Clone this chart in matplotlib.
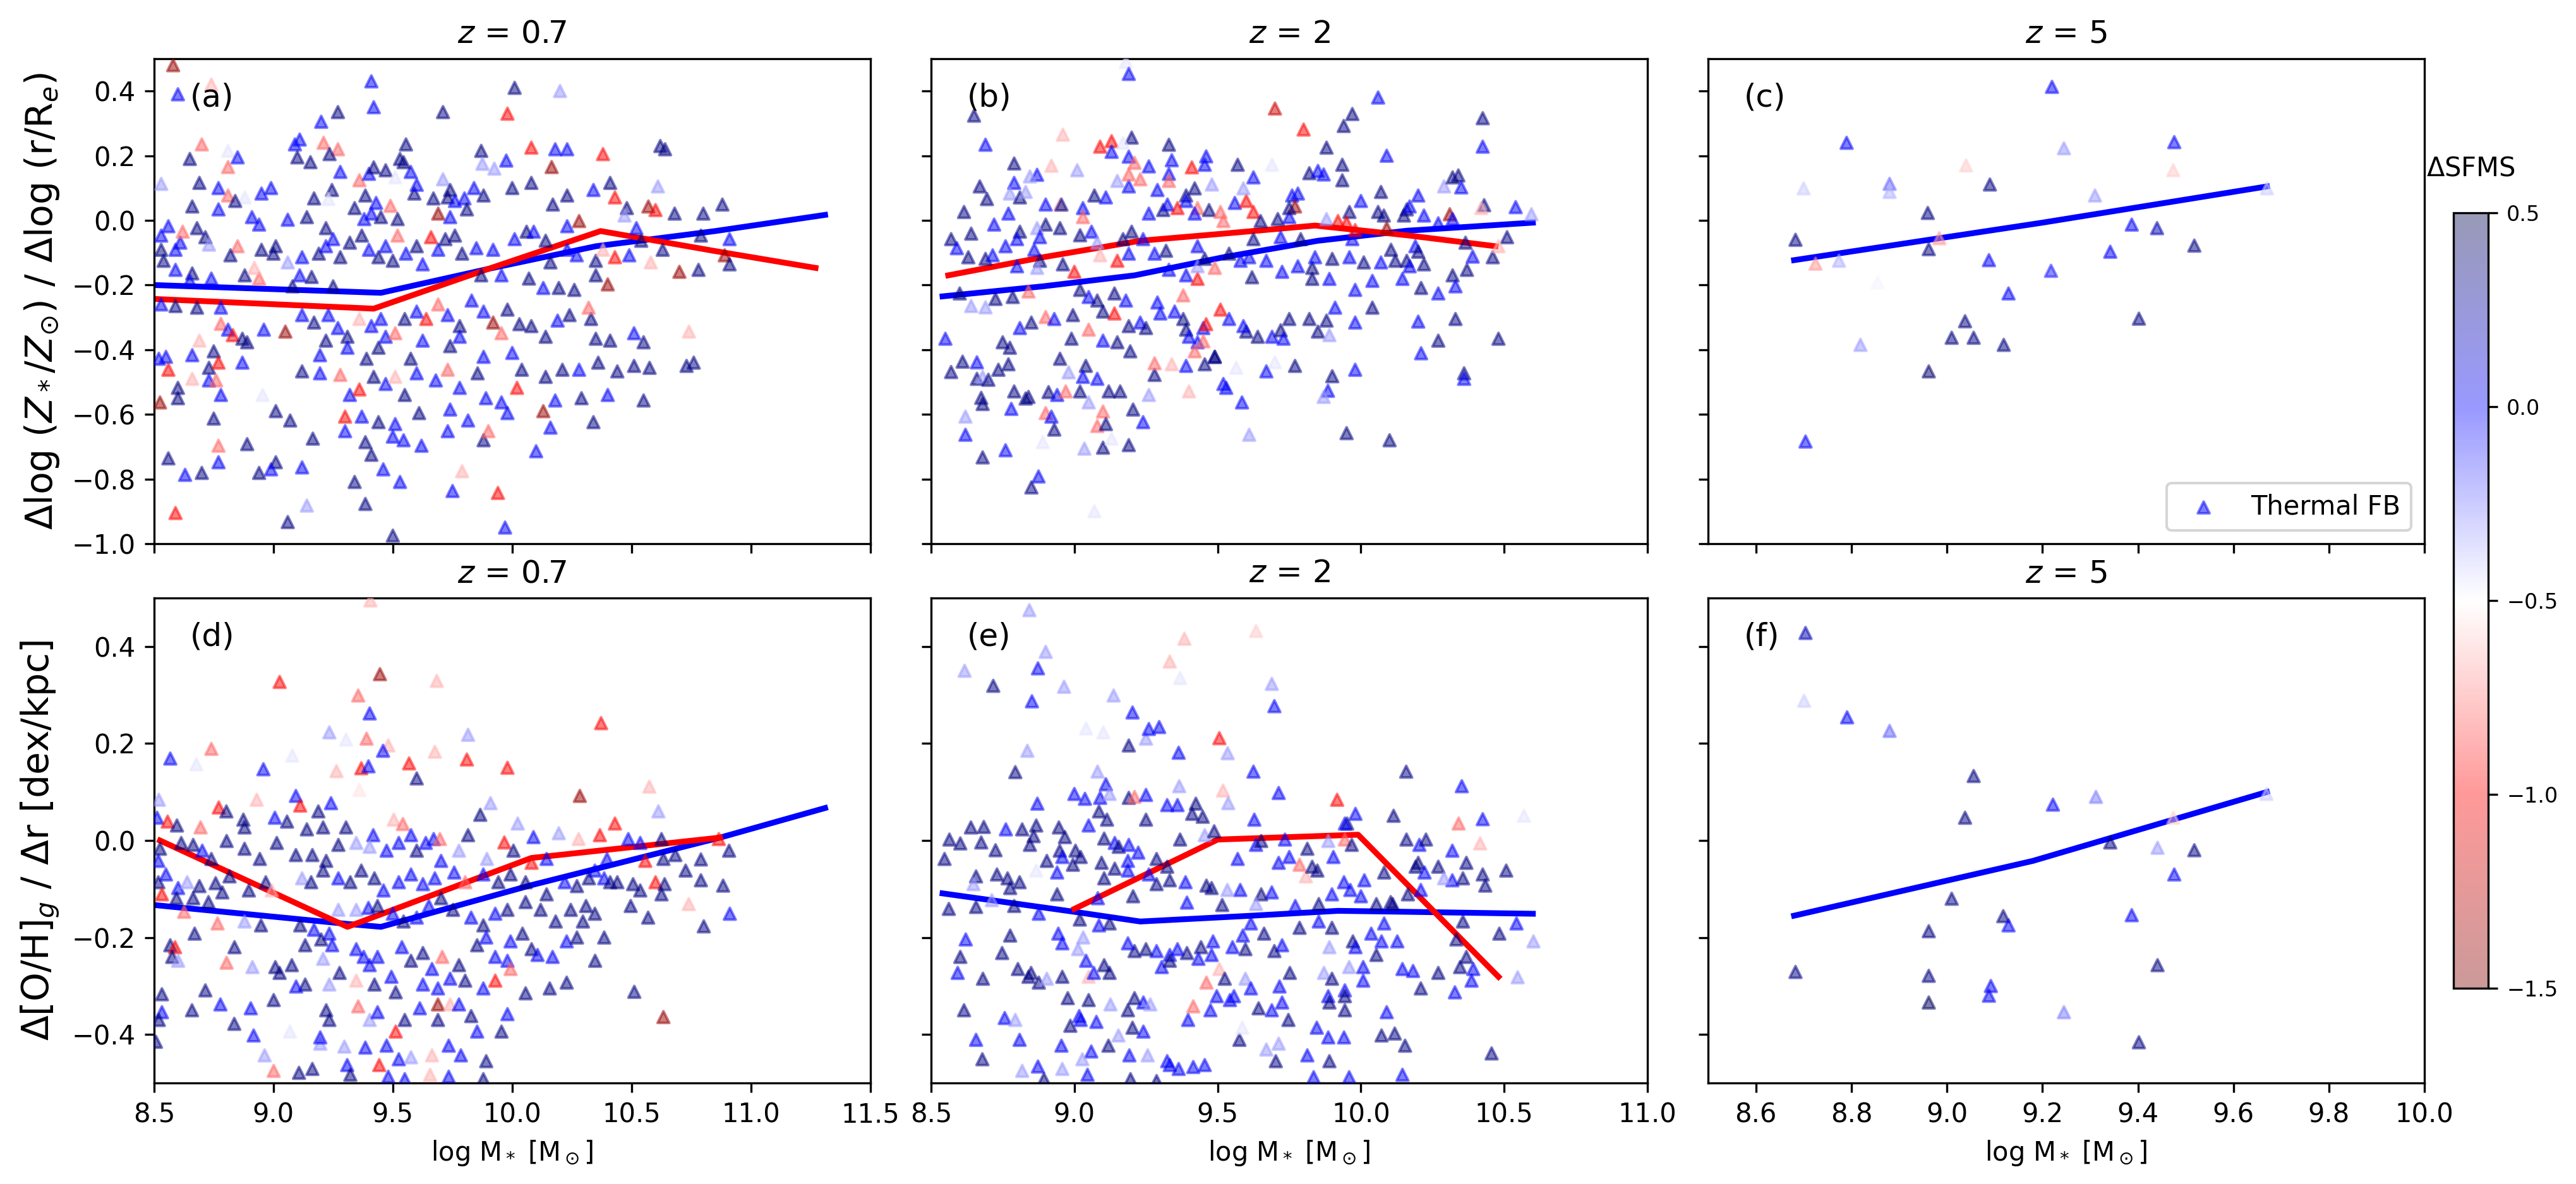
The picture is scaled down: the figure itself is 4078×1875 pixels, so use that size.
import numpy as np
import matplotlib
matplotlib.use("Agg")
import matplotlib.pyplot as plt
from matplotlib import cm, colors

# ---- data: rows of [log M*, gradient, delta SFMS] ----
pts_a = [
    [8.58, 0.48, -1.4], [8.60, 0.39, 0.0], [9.41, 0.43, 0.0], [9.42, 0.35, 0.0], [9.27, 0.335, 0.35],
    [9.20, 0.305, 0.0], [10.01, 0.41, 0.35], [10.20, 0.40, -0.3], [9.71, 0.335, 0.35], [9.98, 0.33, -1.0],
    [8.74, 0.42, -0.65], [8.70, 0.235, -0.8], [8.65, 0.19, 0.35], [8.81, 0.165, -0.8], [8.81, 0.215, -0.45],
    [8.85, 0.195, 0.0], [9.09, 0.235, 0.0], [9.11, 0.25, 0.0], [9.21, 0.24, -0.8], [9.27, 0.22, -0.8],
    [9.10, 0.195, 0.35], [9.155, 0.18, 0.35], [9.235, 0.205, 0.35], [9.53, 0.19, 0.35], [9.555, 0.235, 0.35],
    [10.08, 0.225, -1.0], [10.18, 0.22, 0.0], [10.23, 0.22, 0.0], [10.38, 0.205, -1.0], [10.62, 0.23, 0.35],
    [10.64, 0.22, 0.35], [9.87, 0.215, 0.35], [9.975, 0.185, 0.0], [10.165, 0.165, -1.4], [9.875, 0.175, -0.3],
    [9.925, 0.16, -0.3], [9.575, 0.15, 0.0], [9.545, 0.18, 0.35],
    [8.53, 0.113, -0.3], [8.69, 0.116, 0.35], [8.77, 0.10, 0.0], [8.81, 0.077, -0.8], [8.88, 0.071, -0.45],
    [8.84, 0.06, 0.35], [8.66, 0.043, 0.35], [8.77, 0.034, 0.0], [8.95, 0.083, 0.0], [8.99, 0.10, 0.0],
    [8.91, 0.01, 0.0], [8.94, -0.013, 0.0], [9.06, 0.002, 0.0], [9.14, 0.01, 0.35], [9.17, 0.068, 0.35],
    [9.245, 0.094, 0.35], [9.23, 0.066, -0.45], [9.28, 0.15, 0.0], [9.36, 0.124, -0.8], [9.40, 0.144, 0.0],
    [9.42, 0.164, 0.35], [9.47, 0.155, 0.35], [9.51, 0.133, -0.45], [9.385, 0.077, 0.35], [9.43, 0.054, 0.0],
    [9.49, 0.045, -0.8], [9.34, 0.038, 0.35], [9.38, 0.004, 0.0], [9.41, 0.021, 0.0], [9.45, 0.01, 0.35],
    [9.52, 0.004, 0.35], [9.59, 0.083, 0.35], [9.60, 0.11, 0.0], [9.67, 0.068, 0.35], [9.71, 0.127, -0.3],
    [9.74, 0.094, 0.35], [9.73, 0.071, 0.35], [9.76, 0.06, 0.0], [9.80, 0.068, 0.0], [9.81, 0.034, 0.35],
    [9.69, 0.021, -1.4], [9.74, 0.01, 0.0], [9.84, 0.10, 0.0], [9.88, 0.077, 0.35], [10.0, 0.10, 0.35],
    [10.08, 0.116, 0.35], [10.17, 0.049, 0.35], [10.23, 0.077, 0.35], [10.34, 0.094, 0.0], [10.41, 0.116, 0.35],
    [10.43, 0.071, -1.0], [10.61, 0.105, -0.3], [10.48, 0.038, 0.35], [10.57, 0.043, -1.4], [10.60, 0.032, -1.0],
    [10.68, 0.021, 0.35], [10.80, 0.021, 0.35], [10.88, 0.049, 0.35], [10.47, 0.015, -0.3], [10.28, -0.002, -1.4],
    [10.23, -0.018, 0.0],
    [8.53, -0.047, 0.0], [8.56, -0.018, 0.0], [8.53, -0.091, 0.35], [8.54, -0.125, 0.35], [8.59, -0.091, 0.0],
    [8.61, -0.069, 0.0], [8.62, -0.035, -0.8], [8.68, -0.024, 0.35], [8.715, -0.052, 0.35], [8.73, -0.075, -0.3],
    [8.85, -0.08, -0.8], [8.82, -0.108, 0.35], [8.59, -0.153, 0.0], [8.66, -0.164, 0.35], [8.65, -0.187, 0.0],
    [8.74, -0.18, 0.0], [8.88, -0.17, 0.35], [8.94, -0.18, -0.8], [8.92, -0.147, -0.65], [8.95, -0.091, 0.35],
    [9.01, -0.08, 0.35], [9.0, -0.103, 0.35], [9.06, -0.13, -0.3], [9.12, -0.114, 0.0], [9.19, -0.103, 0.35],
    [9.22, -0.08, 0.0], [9.22, -0.024, 0.35], [9.25, -0.058, 0.0], [9.28, -0.114, 0.35], [9.32, -0.069, 0.35],
    [9.11, -0.17, 0.0], [9.16, -0.175, 0.35], [9.25, -0.204, 0.35], [9.08, -0.204, 0.35], [9.37, -0.047, 0.35],
    [9.40, -0.091, 0.0], [9.44, -0.114, 0.35], [9.47, -0.08, 0.0], [9.50, -0.125, 0.35], [9.52, -0.047, -0.8],
    [9.555, -0.103, 0.0], [9.60, -0.08, 0.35], [9.625, -0.136, 0.0], [9.66, -0.052, -1.0], [9.69, -0.091, 0.0],
    [9.72, -0.058, 0.35], [9.76, -0.047, 0.35], [9.79, -0.103, 0.35], [9.85, -0.086, 0.0], [9.87, -0.17, 0.35],
    [9.92, -0.091, 0.0], [9.955, -0.17, 0.0], [10.01, -0.058, 0.0], [10.06, -0.035, 0.35], [10.09, -0.035, 0.0],
    [10.14, -0.063, 0.35], [10.16, -0.13, 0.35], [10.23, -0.091, 0.0], [10.27, -0.108, 0.0], [10.35, -0.125, 0.35],
    [10.38, -0.091, -0.65], [10.43, -0.114, -1.0], [10.49, -0.108, 0.0], [10.52, -0.024, 0.0], [10.54, -0.063, 0.35],
    [10.58, -0.13, -0.65], [10.63, -0.091, 0.35], [10.79, -0.047, 0.35], [10.91, -0.058, 0.0], [10.89, -0.108, -1.4],
    [10.91, -0.136, 0.35], [10.78, -0.153, 0.35], [10.70, -0.159, -1.4], [10.40, -0.198, -1.4], [10.35, -0.17, 0.35],
    [10.13, -0.209, 0.0], [10.195, -0.209, 0.35], [10.26, -0.215, 0.35], [10.07, -0.18, 0.35],
    [8.53, -0.26, 0.0], [8.59, -0.265, 0.35], [8.68, -0.27, 0.35], [8.78, -0.27, 0.0], [8.78, -0.32, -0.8],
    [8.81, -0.338, 0.0], [8.83, -0.355, -1.0], [8.87, -0.366, 0.35], [8.89, -0.377, 0.35], [8.96, -0.338, 0.0],
    [9.05, -0.344, -1.4], [9.12, -0.293, 0.0], [9.17, -0.316, 0.35], [9.23, -0.293, 0.0], [9.27, -0.333, 0.0],
    [9.31, -0.36, 0.35], [9.36, -0.305, -0.65], [9.41, -0.327, 0.0], [9.45, -0.305, 0.0], [9.47, -0.36, 0.0],
    [9.51, -0.349, -0.8], [9.44, -0.394, 0.35], [9.55, -0.305, 0.35], [9.60, -0.282, 0.0], [9.64, -0.305, -1.0],
    [9.69, -0.26, -0.8], [9.73, -0.293, 0.0], [9.78, -0.327, 0.35], [9.83, -0.248, 0.0], [9.88, -0.282, 0.0],
    [9.92, -0.316, -1.4], [9.955, -0.349, -0.8], [10.03, -0.321, 0.35], [10.08, -0.327, 0.35], [10.14, -0.36, 0.35],
    [10.19, -0.31, 0.0], [10.24, -0.293, 0.35], [10.33, -0.305, 0.35], [10.35, -0.366, 0.35], [10.41, -0.372, 0.35],
    [10.51, -0.349, 0.0], [10.55, -0.377, 0.35], [10.74, -0.344, -0.65], [10.32, -0.27, -0.8], [9.98, -0.276, 0.35],
    [9.78, -0.36, 0.0], [9.625, -0.372, 0.0], [9.74, -0.389, 0.35], [9.31, -0.394, 0.0], [9.22, -0.372, 0.35],
    [9.195, -0.417, 0.0], [9.39, -0.428, 0.35], [9.575, -0.428, 0.35], [9.88, -0.422, 0.0], [10.0, -0.41, 0.0],
    [8.69, -0.372, -0.65], [8.75, -0.405, 0.35], [8.66, -0.417, 0.0], [8.52, -0.428, 0.0], [8.55, -0.422, 0.0],
    [8.56, -0.462, -1.0], [8.73, -0.456, 0.35], [8.77, -0.44, -1.0], [8.87, -0.44, 0.0], [8.60, -0.518, 0.35],
    [8.66, -0.49, -0.65], [8.73, -0.495, 0.0], [8.76, -0.495, -0.8], [8.78, -0.54, 0.0], [8.60, -0.55, 0.35],
    [8.525, -0.563, -1.4], [8.955, -0.54, -0.45], [9.12, -0.467, 0.35], [9.195, -0.473, 0.0], [9.28, -0.478, -0.8],
    [9.32, -0.54, 0.0], [9.36, -0.523, -1.0], [9.42, -0.484, 0.35], [9.47, -0.506, 0.0], [9.51, -0.484, -0.65],
    [9.55, -0.54, 0.35], [9.60, -0.473, 0.0], [9.68, -0.495, 0.0], [9.73, -0.462, -0.8], [9.78, -0.518, 0.0],
    [9.855, -0.473, 0.35], [9.89, -0.55, 0.0], [9.955, -0.563, 0.0], [10.02, -0.518, -1.0], [10.04, -0.462, 0.35],
    [10.14, -0.484, 0.35], [10.21, -0.462, 0.35], [10.28, -0.462, 0.0], [10.36, -0.44, 0.35], [10.44, -0.467, 0.35],
    [10.51, -0.45, 0.35], [10.575, -0.456, 0.35], [10.73, -0.45, 0.35], [10.76, -0.44, 0.35], [10.40, -0.54, 0.0],
    [10.29, -0.55, 0.35], [10.18, -0.557, 0.0], [10.55, -0.557, 0.35], [9.74, -0.585, 0.0], [9.61, -0.596, 0.35],
    [9.37, -0.607, 0.0], [9.30, -0.607, -1.0], [9.44, -0.624, 0.35], [9.51, -0.63, 0.0], [9.01, -0.59, 0.35],
    [9.07, -0.619, 0.35], [8.75, -0.613, 0.35], [9.815, -0.619, 0.0], [10.13, -0.59, -1.4], [10.16, -0.641, 0.0],
    [10.34, -0.624, 0.35], [9.98, -0.596, 0.0],
    [9.30, -0.652, 0.0], [9.50, -0.669, 0.0], [9.545, -0.68, 0.0], [9.88, -0.68, 0.35], [9.90, -0.652, -0.8],
    [9.73, -0.652, 0.0], [9.165, -0.675, 0.35], [9.385, -0.686, 0.35], [9.41, -0.725, 0.35], [9.62, -0.697, 0.0],
    [8.89, -0.692, 0.35], [8.77, -0.697, -0.8], [8.56, -0.736, 0.35], [8.77, -0.748, 0.0], [9.01, -0.748, 0.35],
    [8.99, -0.77, 0.0], [9.12, -0.764, 0.0], [8.94, -0.781, 0.35], [8.63, -0.787, 0.0], [8.70, -0.781, 0.35],
    [9.46, -0.77, 0.0], [9.53, -0.809, 0.0], [9.34, -0.809, 0.35], [9.79, -0.776, -0.65], [10.10, -0.714, 0.0],
    [9.75, -0.837, 0.0], [9.94, -0.843, -1.0], [9.385, -0.877, 0.35], [9.14, -0.882, -0.3], [8.59, -0.905, -1.0],
    [9.06, -0.933, 0.35], [9.97, -0.95, 0.0], [9.50, -0.975, 0.35],
]

pts_b = [
    [9.18, 0.49, -0.45], [9.19, 0.453, 0.0], [8.65, 0.324, 0.35], [8.69, 0.234, 0.0], [8.96, 0.265, -0.65],
    [9.20, 0.256, 0.35], [9.09, 0.228, -1.0], [9.13, 0.245, -1.0], [9.17, 0.24, -0.45], [9.13, 0.212, 0.0],
    [9.19, 0.197, 0.0], [9.21, 0.178, -0.8], [9.26, 0.167, 0.0], [9.33, 0.234, 0.35], [9.34, 0.186, 0.0],
    [9.46, 0.198, 0.0], [9.455, 0.172, 0.0], [9.41, 0.164, -1.0], [9.57, 0.172, 0.35], [9.69, 0.172, -0.45],
    [9.70, 0.346, -1.2], [9.80, 0.281, -1.0], [9.88, 0.225, 0.35], [9.94, 0.292, 0.35], [9.97, 0.329, 0.35],
    [10.06, 0.38, 0.0], [10.09, 0.20, 0.0], [10.425, 0.316, 0.35], [10.425, 0.228, 0.0], [9.935, 0.172, 0.35],
    [9.82, 0.146, 0.35], [9.87, 0.142, 0.0], [9.85, 0.153, 0.0], [9.935, 0.124, 0.35],
    [8.79, 0.176, 0.35], [8.87, 0.141, 0.0], [8.92, 0.169, -0.65], [9.01, 0.155, -0.3], [8.845, 0.136, -0.3],
    [8.67, 0.105, 0.35], [8.79, 0.116, 0.0], [8.695, 0.066, 0.35], [8.775, 0.083, -0.3], [8.81, 0.071, 0.35],
    [8.83, 0.088, -0.3], [8.615, 0.026, 0.35], [8.77, 0.021, 0.0], [8.72, -0.013, 0.0], [8.90, 0.049, 0.0],
    [8.95, 0.049, -0.65], [8.955, 0.049, 0.35], [8.90, -0.013, 0.35], [8.95, -0.024, 0.35], [8.87, -0.024, -0.3],
    [9.03, 0.038, 0.0], [9.03, 0.01, -0.8], [9.07, 0.077, 0.35], [9.11, 0.071, 0.0], [9.15, 0.122, -0.3],
    [9.19, 0.105, 0.0], [9.19, 0.142, -0.8], [9.23, 0.127, -0.8], [9.29, 0.094, 0.0], [9.33, 0.144, 0.0],
    [9.33, 0.122, -0.8], [9.39, 0.077, 0.35], [9.42, 0.099, 0.35], [9.39, 0.06, 0.0], [9.26, 0.021, 0.0],
    [9.31, 0.032, 0.35], [9.325, 0.049, 0.0], [9.36, 0.038, -1.0], [9.43, 0.038, -0.8], [9.42, 0.021, 0.0],
    [9.47, 0.032, 0.35], [9.48, 0.111, -0.3], [9.51, 0.026, -0.8], [9.52, -0.002, -0.8], [9.56, 0.054, 0.0],
    [9.60, 0.06, -1.0], [9.625, 0.133, 0.0], [9.59, 0.099, -0.3], [9.625, 0.026, -1.0], [9.65, -0.002, 0.35],
    [9.71, 0.004, 0.35], [9.75, 0.01, 0.0], [9.76, 0.077, 0.0], [9.78, 0.083, 0.0], [9.77, 0.043, -1.4],
    [9.75, 0.038, 0.35], [9.88, 0.004, -0.3], [9.96, 0.026, 0.35], [10.0, 0.06, 0.0], [10.07, 0.088, 0.35],
    [10.06, 0.026, 0.35], [10.08, 0.015, 0.35], [10.15, 0.015, 0.35], [10.16, 0.034, 0.35], [10.17, 0.043, 0.0],
    [10.20, 0.077, 0.0], [10.22, 0.015, 0.0], [10.29, 0.105, -0.3], [10.32, 0.133, 0.35], [10.34, 0.139, 0.35],
    [10.35, 0.102, 0.0], [10.43, 0.047, 0.35], [10.42, 0.038, -0.65], [10.31, 0.019, -1.4], [10.32, 0.004, 0.0],
    [10.54, 0.041, 0.0], [10.595, 0.019, -0.3], [10.27, -0.009, 0.0],
    [8.57, -0.058, 0.35], [8.59, -0.086, 0.0], [8.64, -0.041, 0.35], [8.63, -0.114, 0.35], [8.69, -0.119, 0.35],
    [8.715, -0.108, 0.0], [8.76, -0.08, 0.0], [8.81, -0.035, 0.35], [8.80, -0.058, 0.0], [8.88, -0.052, 0.0],
    [8.86, -0.091, 0.0], [8.88, -0.125, 0.35], [8.80, -0.142, 0.0], [8.87, -0.147, -0.3], [8.96, -0.136, 0.35],
    [9.0, -0.159, -1.0], [9.02, -0.046, 0.35], [9.06, -0.035, 0.0], [9.08, -0.069, -0.3], [9.09, -0.108, -0.65],
    [9.15, -0.125, -1.0], [9.19, -0.103, 0.0], [9.17, -0.058, 0.35], [9.20, -0.035, 0.35], [9.24, -0.058, 0.0],
    [9.28, -0.103, 0.0], [9.32, -0.094, 0.35], [9.33, -0.153, 0.0], [9.39, -0.17, 0.0], [9.43, -0.181, -1.0],
    [9.43, -0.142, -0.3], [9.43, -0.08, 0.0], [9.455, -0.119, 0.35], [9.49, -0.147, -0.8], [9.54, -0.103, 0.35],
    [9.58, -0.125, 0.0], [9.625, -0.058, 0.35], [9.61, -0.114, 0.0], [9.62, -0.176, 0.35], [9.67, -0.125, 0.0],
    [9.72, -0.052, 0.0], [9.725, -0.159, 0.0], [9.78, -0.142, 0.0], [9.79, -0.058, 0.35], [9.83, -0.147, 0.35],
    [9.83, -0.181, 0.35], [9.84, -0.114, 0.0], [9.89, -0.181, 0.0], [9.90, -0.119, 0.35], [9.96, -0.114, 0.0],
    [9.97, -0.058, 0.0], [10.01, -0.13, 0.35], [10.04, -0.187, 0.0], [10.07, -0.13, 0.0], [10.105, -0.091, 0.35],
    [10.12, -0.125, 0.35], [10.145, -0.181, 0.0], [10.16, -0.125, 0.35], [10.19, -0.08, 0.0], [10.20, -0.097, 0.35],
    [10.22, -0.136, 0.35], [10.17, -0.142, 0.0], [10.21, -0.209, 0.35], [10.27, -0.226, 0.0], [10.32, -0.17, 0.35],
    [10.33, -0.204, 0.0], [10.37, -0.153, 0.35], [10.46, -0.114, 0.35], [10.39, -0.112, 0.0], [10.365, -0.069, 0.35],
    [10.51, -0.052, 0.35], [10.48, -0.08, -0.65], [10.09, -0.024, -1.4], [9.92, -0.002, -1.0], [9.95, -0.007, -1.0],
    [9.98, -0.03, -1.0],
    [8.55, -0.366, 0.0], [8.60, -0.226, 0.35], [8.64, -0.265, -0.3], [8.69, -0.269, -0.3], [8.725, -0.243, 0.35],
    [8.785, -0.237, 0.35], [8.84, -0.22, -0.8], [8.75, -0.377, 0.35], [8.775, -0.394, 0.35], [8.81, -0.333, 0.0],
    [8.85, -0.316, 0.35], [8.90, -0.299, -0.8], [8.93, -0.305, 0.0], [8.99, -0.366, 0.35], [8.995, -0.293, 0.35],
    [9.05, -0.237, 0.0], [9.02, -0.215, 0.35], [9.08, -0.248, 0.35], [9.10, -0.282, 0.35], [9.14, -0.288, -1.0],
    [9.14, -0.226, 0.35], [9.18, -0.248, 0.0], [9.19, -0.327, 0.35], [9.05, -0.338, -0.8], [9.10, -0.372, 0.0],
    [9.15, -0.377, 0.35], [9.195, -0.405, 0.35], [9.23, -0.316, 0.0], [9.25, -0.333, 0.35], [9.29, -0.254, 0.0],
    [9.30, -0.288, 0.0], [9.35, -0.282, 0.0], [9.38, -0.305, 0.35], [9.39, -0.338, 0.35], [9.40, -0.36, 0.0],
    [9.38, -0.232, -0.8], [9.45, -0.333, 0.0], [9.46, -0.321, -1.0], [9.51, -0.276, -1.0], [9.43, -0.377, 0.0],
    [9.45, -0.374, -0.8], [9.49, -0.422, 0.35], [9.42, -0.405, -0.8], [9.54, -0.305, 0.0], [9.60, -0.344, 0.35],
    [9.59, -0.327, 0.0], [9.64, -0.36, 0.35], [9.69, -0.36, 0.0], [9.72, -0.34, 0.35], [9.73, -0.366, 0.0],
    [9.75, -0.305, 0.35], [9.82, -0.305, 0.35], [9.85, -0.344, 0.35], [9.88, -0.31, 0.35], [9.89, -0.355, -0.3],
    [9.91, -0.27, 0.0], [9.98, -0.316, 0.0], [10.04, -0.27, 0.35], [10.20, -0.313, 0.0], [10.33, -0.305, 0.35],
    [10.27, -0.372, 0.35], [10.48, -0.366, 0.35], [10.21, -0.411, 0.0], [9.98, -0.215, 0.0], [9.70, -0.439, -0.45],
    [8.57, -0.469, 0.35], [8.61, -0.437, 0.35], [8.66, -0.439, 0.0], [8.66, -0.49, 0.35], [8.68, -0.484, -0.3],
    [8.70, -0.493, 0.35], [8.735, -0.462, 0.35], [8.77, -0.445, 0.35], [8.79, -0.529, 0.35], [8.83, -0.551, 0.35],
    [8.84, -0.546, 0.35], [8.675, -0.549, 0.35], [8.68, -0.568, 0.35], [8.62, -0.607, -0.3], [8.62, -0.663, 0.0],
    [8.68, -0.733, 0.35], [8.76, -0.711, 0.0], [8.78, -0.583, 0.0], [8.875, -0.792, 0.0], [8.85, -0.826, 0.35],
    [8.89, -0.686, -0.45], [8.90, -0.596, -0.8], [8.92, -0.607, 0.0], [8.93, -0.647, 0.35], [8.91, -0.531, 0.35],
    [8.94, -0.54, 0.0], [8.95, -0.428, 0.35], [8.97, -0.529, -0.8], [8.98, -0.47, -0.3], [9.02, -0.529, 0.35],
    [9.04, -0.45, 0.35], [9.03, -0.484, 0.0], [9.08, -0.49, 0.0], [9.05, -0.563, -0.3], [9.035, -0.706, -0.3],
    [9.07, -0.90, -0.45], [9.08, -0.636, -0.8], [9.10, -0.591, -0.8], [9.11, -0.63, 0.35], [9.10, -0.703, 0.35],
    [9.13, -0.675, -0.45], [9.12, -0.529, 0.35], [9.16, -0.529, 0.35], [9.19, -0.695, 0.35], [9.205, -0.585, 0.35],
    [9.24, -0.624, 0.0], [9.26, -0.54, -0.3], [9.28, -0.478, 0.35], [9.28, -0.442, -0.8], [9.34, -0.445, -0.65],
    [9.39, -0.45, 0.0], [9.40, -0.529, -0.65], [9.455, -0.445, 0.35], [9.49, -0.422, 0.35], [9.52, -0.506, 0.0],
    [9.53, -0.518, 0.0], [9.585, -0.563, 0.0], [9.61, -0.663, -0.3], [9.565, -0.456, -0.45], [9.67, -0.467, 0.0],
    [9.77, -0.45, 0.35], [9.90, -0.482, 0.35], [9.885, -0.527, 0.0], [9.87, -0.546, -0.3], [9.98, -0.462, 0.0],
    [9.95, -0.658, 0.35], [10.10, -0.68, 0.35], [10.36, -0.473, 0.35], [10.36, -0.49, 0.0],
]

pts_c = [
    [9.22, 0.413, 0.0], [8.79, 0.240, 0.0], [9.245, 0.223, -0.3], [9.476, 0.242, 0.0], [8.70, 0.099, -0.4],
    [8.88, 0.113, -0.2], [8.88, 0.088, -0.35], [9.04, 0.170, -0.6], [9.474, 0.155, -0.6], [9.09, 0.111, 0.35],
    [9.31, 0.077, -0.3], [9.67, 0.099, -0.4], [8.96, 0.023, 0.35], [8.683, -0.060, 0.35], [9.387, -0.013, 0.0],
    [9.44, -0.024, 0.2], [8.984, -0.055, -0.7], [8.962, -0.089, 0.35], [9.518, -0.078, 0.35], [9.342, -0.097, 0.0],
    [8.774, -0.125, -0.35], [8.725, -0.134, -0.7], [9.088, -0.123, 0.0], [9.218, -0.156, -0.05], [8.855, -0.192, -0.48],
    [9.129, -0.226, 0.0], [9.402, -0.304, 0.35], [9.038, -0.312, 0.35], [9.010, -0.363, 0.35], [9.056, -0.363, 0.35],
    [9.119, -0.385, 0.35], [8.819, -0.385, -0.3], [8.962, -0.467, 0.4], [8.704, -0.684, 0.0],
]

pts_d = [
    [9.406, 0.495, -0.65], [9.026, 0.327, -1.0], [9.446, 0.343, -1.4], [9.355, 0.299, -0.8], [9.684, 0.329, -0.65],
    [9.403, 0.262, 0.0], [9.234, 0.223, -0.3], [9.304, 0.208, -0.45], [9.39, 0.21, -0.8], [9.481, 0.196, -0.65],
    [9.459, 0.185, 0.0], [8.74, 0.189, -0.8], [9.079, 0.175, -0.45], [8.568, 0.169, 0.0], [8.677, 0.157, -0.45],
    [8.958, 0.147, 0.0], [9.264, 0.143, -0.65], [9.368, 0.149, -1.0], [9.398, 0.153, 0.0], [9.568, 0.159, -1.0],
    [9.676, 0.183, -0.65], [9.81, 0.167, -1.0], [9.815, 0.218, -0.3], [9.98, 0.15, -1.0], [9.60, 0.128, 0.35],
    [10.372, 0.242, -1.0], [9.36, 0.104, -0.55], [10.574, 0.111, -0.65], [10.283, 0.092, -1.4],
    [8.52, 0.084, -0.3], [8.513, 0.047, 0.0], [8.557, 0.039, -1.0], [8.596, 0.031, 0.35], [8.695, 0.027, -0.8],
    [8.771, 0.068, -1.0], [8.803, 0.06, 0.35], [8.874, 0.043, 0.35], [8.879, 0.027, 0.35], [8.93, 0.084, -0.65],
    [9.006, 0.047, 0.0], [9.057, 0.039, 0.35], [9.094, 0.092, 0.0], [9.112, 0.072, -1.0], [9.188, 0.06, 0.35],
    [9.241, 0.077, 0.0], [9.14, 0.023, 0.35], [9.208, 0.027, 0.35], [9.304, 0.027, 0.35], [9.418, 0.011, 0.0],
    [9.504, 0.043, -0.65], [9.542, 0.034, -0.8], [9.576, 0.011, 0.0], [9.671, 0.003, 0.0], [9.697, 0.003, -0.8],
    [9.866, 0.053, 0.35], [9.909, 0.077, -0.3], [10.023, 0.035, -0.3], [10.089, 0.007, 0.0], [10.195, 0.015, -0.3],
    [10.278, 0.003, -0.65], [10.367, 0.011, -1.0], [10.43, 0.035, -1.0], [10.612, 0.06, -0.3], [10.486, 0.003, 0.0],
    [10.536, -0.005, 0.0], [10.625, 0.003, 0.35], [10.865, 0.003, -1.0], [9.967, -0.004, -1.0], [9.815, 0.011, 0.35],
    [8.525, -0.017, 0.35], [8.518, -0.042, 0.0], [8.614, -0.005, 0.35], [8.664, -0.009, 0.35], [8.702, -0.021, 0.0],
    [8.74, -0.038, 0.35], [8.804, -0.001, 0.35], [8.879, -0.017, 0.35], [8.943, -0.038, 0.35], [9.014, -0.005, 0.35],
    [9.094, -0.03, 0.35], [9.163, -0.03, 0.35], [9.221, -0.042, 0.35], [9.272, -0.009, 0.35], [9.347, -0.005, -0.3],
    [9.403, -0.013, -0.3], [9.474, -0.021, 0.0], [9.525, -0.005, 0.0], [9.60, -0.021, 0.35], [9.638, -0.005, 0.0],
    [9.702, -0.042, 0.0], [9.777, -0.021, -0.3], [9.894, -0.038, -0.3], [10.005, -0.021, 0.35], [10.081, -0.046, -1.0],
    [10.144, -0.038, 0.0], [10.397, -0.038, 0.0], [10.557, -0.042, -1.0], [10.633, -0.038, 0.35], [10.683, -0.03, 0.35],
    [10.79, -0.039, 0.35], [10.908, -0.021, 0.35],
    [8.518, -0.086, 0.35], [8.533, -0.111, -1.0], [8.55, -0.07, 0.0], [8.601, -0.098, 0.0], [8.639, -0.086, -0.3],
    [8.69, -0.094, 0.35], [8.758, -0.088, 0.35], [8.786, -0.107, 0.35], [8.816, -0.074, 0.35], [8.897, -0.103, 0.35],
    [8.968, -0.086, 0.35], [8.993, -0.103, -0.65], [9.12, -0.078, -0.3], [9.158, -0.086, 0.35], [9.208, -0.062, 0.35],
    [9.272, -0.078, 0.0], [9.322, -0.086, 0.35], [9.368, -0.062, 0.35], [9.423, -0.078, 0.35], [9.461, -0.103, 0.0],
    [9.525, -0.086, 0.0], [9.576, -0.07, 0.0], [9.626, -0.09, 0.0], [9.676, -0.078, 0.0], [9.757, -0.066, 0.0],
    [9.803, -0.086, -0.8], [9.879, -0.07, 0.0], [9.942, -0.086, 0.35], [9.993, -0.07, 0.35], [10.056, -0.086, 0.35],
    [10.144, -0.111, 0.35], [10.22, -0.086, 0.0], [10.271, -0.094, 0.35], [10.321, -0.078, 0.35], [10.346, -0.062, 0.0],
    [10.385, -0.078, 0.0], [10.41, -0.086, 0.35], [10.44, -0.086, 0.35], [10.506, -0.09, 0.35], [10.536, -0.103, 0.35],
    [10.60, -0.086, -1.0], [10.625, -0.111, 0.35], [10.726, -0.062, 0.35], [10.79, -0.082, 0.35], [10.883, -0.093, 0.35],
    [10.739, -0.131, -0.65], [10.911, -0.151, 0.0], [10.569, -0.159, 0.35], [10.802, -0.177, 0.35], [8.594, -0.119, 0.35],
    [8.664, -0.119, 0.35], [8.728, -0.127, 0.35], [8.626, -0.147, -0.8], [8.766, -0.171, -0.8], [8.879, -0.167, -0.3],
    [8.948, -0.175, 0.35], [9.112, -0.175, 0.35], [9.17, -0.184, 0.0], [9.234, -0.192, 0.0], [9.272, -0.143, -0.3],
    [9.347, -0.143, -0.3], [9.398, -0.139, 0.0], [9.436, -0.135, 0.35], [9.50, -0.151, 0.0], [9.545, -0.167, 0.35],
    [9.60, -0.159, 0.0], [9.651, -0.135, 0.0], [9.702, -0.119, 0.35], [9.752, -0.143, 0.35], [9.828, -0.159, 0.0],
    [9.879, -0.175, 0.35], [9.929, -0.151, 0.0], [9.98, -0.143, 0.35], [10.056, -0.127, 0.35], [10.119, -0.143, 0.35],
    [10.182, -0.167, 0.35], [10.245, -0.143, 0.35], [10.309, -0.135, 0.35], [10.346, -0.151, 0.35], [10.296, -0.167, 0.35],
    [10.496, -0.135, 0.35], [10.638, -0.09, 0.35],
    [8.568, -0.216, 0.35], [8.588, -0.22, -1.0], [8.576, -0.24, 0.35], [8.601, -0.248, -0.3], [8.67, -0.192, 0.35],
    [8.804, -0.252, -0.8], [8.837, -0.22, 0.35], [8.912, -0.261, -0.3], [9.008, -0.261, 0.35], [9.026, -0.273, 0.35],
    [9.077, -0.257, 0.35], [9.133, -0.216, 0.35], [9.20, -0.204, 0.35], [9.246, -0.216, 0.0], [9.208, -0.244, -0.3],
    [9.277, -0.273, 0.35], [9.347, -0.224, 0.0], [9.378, -0.24, 0.0], [9.403, -0.257, 0.0], [9.436, -0.24, 0.0],
    [9.494, -0.281, 0.0], [9.538, -0.22, 0.0], [9.576, -0.248, 0.35], [9.626, -0.232, 0.35], [9.664, -0.265, 0.0],
    [9.707, -0.24, -0.8], [9.74, -0.285, 0.0], [9.777, -0.257, 0.35], [9.853, -0.216, 0.35], [9.891, -0.20, 0.0],
    [9.929, -0.24, 0.0], [9.98, -0.248, 0.0], [9.993, -0.208, 0.0], [10.043, -0.192, 0.35], [10.081, -0.224, 0.35],
    [10.106, -0.236, 0.0], [10.169, -0.24, 0.0], [10.228, -0.208, 0.0], [10.271, -0.20, 0.35], [10.347, -0.248, 0.35],
    [10.385, -0.20, 0.35], [9.803, -0.289, 0.35], [9.993, -0.265, -0.8], [9.929, -0.289, -1.0], [10.157, -0.305, 0.35],
    [10.228, -0.293, 0.35], [10.511, -0.312, 0.35], [9.347, -0.289, -0.65], [9.133, -0.297, 0.35], [9.234, -0.297, -0.3],
    [9.095, -0.301, 0.0], [8.533, -0.317, 0.35], [8.715, -0.309, 0.35], [9.423, -0.297, 0.35], [9.512, -0.313, 0.35],
    [9.626, -0.297, 0.0], [9.689, -0.305, 0.0], [9.879, -0.305, 0.0], [10.056, -0.315, 0.35],
    [8.533, -0.354, 0.0], [8.659, -0.35, 0.35], [8.778, -0.338, 0.0], [8.905, -0.346, 0.0], [8.836, -0.378, 0.35],
    [9.001, -0.329, 0.35], [9.221, -0.35, 0.35], [9.234, -0.37, 0.35], [9.355, -0.342, -0.8], [9.403, -0.37, -0.3],
    [9.436, -0.354, 0.0], [9.512, -0.394, -1.0], [9.55, -0.37, 0.35], [9.613, -0.346, 0.0], [9.689, -0.338, -1.4],
    [9.689, -0.37, 0.35], [9.74, -0.338, -0.65], [9.777, -0.338, 0.0], [9.828, -0.362, 0.35], [9.853, -0.394, 0.0],
    [9.955, -0.394, 0.35], [9.98, -0.358, 0.0], [10.633, -0.364, -1.4], [8.917, -0.402, 0.0], [9.069, -0.394, -0.45],
    [9.196, -0.419, -0.3], [9.196, -0.406, 0.0], [9.297, -0.425, -0.3], [9.385, -0.427, 0.0], [9.474, -0.423, 0.0],
    [9.525, -0.451, 0.0], [9.576, -0.447, -0.3], [9.664, -0.443, -0.65], [9.734, -0.423, 0.0], [9.785, -0.443, 0.0],
    [9.891, -0.455, 0.35], [8.963, -0.443, -0.3], [9.001, -0.475, -0.8], [9.107, -0.479, 0.35], [9.163, -0.471, 0.35],
    [9.309, -0.463, 0.0], [9.322, -0.483, 0.35], [9.443, -0.463, -1.0], [9.481, -0.487, 0.0], [9.55, -0.492, 0.0],
    [9.656, -0.483, -0.65], [9.734, -0.487, 0.0], [9.879, -0.492, 0.35], [8.508, -0.415, 0.35], [8.52, -0.37, 0.35],
]

pts_e = [
    [8.843, 0.475, -0.3], [8.617, 0.35, -0.3], [8.717, 0.319, 0.35], [8.873, 0.355, 0.0], [8.90, 0.389, -0.3],
    [8.852, 0.287, 0.0], [8.964, 0.317, -0.3], [9.041, 0.231, -0.45], [9.101, 0.223, -0.45], [9.137, 0.299, -0.3],
    [9.203, 0.264, 0.0], [9.19, 0.196, 0.35], [9.25, 0.21, -0.3], [9.26, 0.23, 0.0], [9.296, 0.234, 0.0],
    [9.333, 0.369, -0.65], [9.384, 0.416, -0.65], [9.369, 0.335, -0.45], [9.364, 0.181, 0.0], [9.506, 0.211, -1.0],
    [9.535, 0.18, -0.3], [9.634, 0.432, -0.6], [9.689, 0.323, -0.3], [9.698, 0.277, 0.0], [9.625, 0.142, 0.0],
    [8.836, 0.185, -0.3], [8.794, 0.141, 0.35], [9.081, 0.142, -0.3], [9.11, 0.116, 0.0], [9.0, 0.096, 0.0],
    [9.037, 0.086, 0.0], [9.09, 0.088, 0.0], [9.123, 0.096, -0.3], [8.871, 0.076, 0.0], [9.19, 0.088, 0.35],
    [9.21, 0.09, -0.8], [9.25, 0.094, 0.0], [9.324, 0.073, 0.0], [9.36, 0.073, 0.0], [9.366, 0.112, -0.3],
    [9.424, 0.076, 0.35], [9.519, 0.103, -0.65], [9.537, 0.077, -0.3], [9.713, 0.098, 0.0], [9.917, 0.084, -1.0],
    [10.158, 0.142, 0.35], [10.352, 0.112, 0.0], [9.086, 0.06, 0.35], [9.114, 0.043, 0.35], [9.05, 0.031, 0.0],
    [9.25, 0.043, 0.35], [9.411, 0.055, 0.35], [9.448, 0.049, 0.35], [9.628, 0.043, 0.0], [9.952, 0.035, 0.35],
    [9.981, 0.055, 0.0], [10.114, 0.051, 0.35], [10.341, 0.035, -0.8], [10.425, 0.044, 0.0], [10.569, 0.051, -0.45],
    [10.416, -0.006, -0.65],
    [8.547, -0.038, 0.35], [8.564, 0.002, 0.35], [8.602, -0.006, 0.35], [8.639, 0.027, 0.35], [8.684, 0.028, 0.35],
    [8.675, -0.004, 0.35], [8.725, -0.02, 0.35], [8.761, 0.023, 0.0], [8.818, 0.023, 0.35], [8.867, 0.031, 0.35],
    [8.858, 0.009, 0.35], [8.845, -0.009, 0.35], [8.904, -0.042, 0.35], [8.946, 0.027, 0.35], [8.967, 0.007, 0.35],
    [8.949, -0.021, 0.35], [8.958, -0.034, 0.0], [9.004, -0.021, 0.35], [9.022, -0.034, 0.35], [8.995, -0.05, 0.35],
    [8.94, -0.066, 0.0], [8.867, -0.062, -0.45], [8.73, -0.07, 0.35], [8.767, -0.078, 0.35], [8.809, -0.086, 0.35],
    [8.657, -0.074, 0.35], [8.648, -0.09, -0.3], [8.776, -0.098, 0.35], [9.104, 0.004, 0.35], [9.141, -0.005, 0.0],
    [9.155, -0.013, 0.35], [9.19, -0.009, 0.0], [9.223, -0.025, 0.0], [9.095, -0.046, 0.35], [9.104, -0.078, 0.35],
    [9.141, -0.058, 0.35], [9.187, -0.042, 0.0], [9.187, -0.062, 0.0], [9.26, -0.07, 0.0], [9.287, -0.038, 0.35],
    [9.333, -0.082, 0.35], [9.324, -0.054, 0.35], [9.369, 0.002, 0.35], [9.388, -0.086, 0.0], [9.455, 0.011, -0.3],
    [9.488, 0.019, 0.35], [9.57, -0.038, 0.0], [9.634, -0.009, 0.0], [9.652, -0.001, 0.35], [9.713, -0.046, 0.0],
    [9.735, 0.002, 0.0], [9.75, -0.034, 0.0], [9.786, -0.05, -0.8], [9.808, -0.074, -0.65], [9.813, -0.017, 0.35],
    [9.83, -0.054, 0.35], [9.848, -0.062, 0.35], [9.904, -0.034, 0.0], [9.886, -0.001, -0.3], [9.944, 0.002, -0.8],
    [9.968, -0.009, 0.35], [9.944, 0.035, 0.0], [10.012, -0.082, 0.0], [10.081, -0.066, 0.35], [10.159, 0.002, 0.35],
    [10.204, -0.009, 0.0], [10.227, 0.002, 0.35], [10.191, -0.054, 0.35], [10.20, -0.046, 0.35], [10.222, -0.066, 0.0],
    [10.27, -0.054, 0.35], [10.319, -0.021, 0.0], [10.368, -0.046, 0.35], [10.356, -0.078, 0.35], [10.319, -0.082, 0.0],
    [10.29, -0.078, -0.3], [10.425, -0.07, 0.35], [10.434, -0.093, 0.35], [10.507, -0.062, 0.35], [10.209, -0.102, 0.0],
    [10.164, -0.111, 0.35], [10.104, -0.127, 0.35], [10.054, -0.131, 0.35], [9.899, -0.111, 0.0], [9.941, -0.086, 0.0],
    [9.963, -0.102, 0.0], [10.0, -0.115, 0.0], [9.689, -0.107, 0.0], [9.652, -0.111, 0.35], [9.579, -0.102, 0.0],
    [9.534, -0.102, -0.3], [9.479, -0.098, 0.35], [9.461, -0.093, 0.35], [9.393, -0.128, 0.0], [9.287, -0.09, 0.35],
    [9.205, -0.115, 0.35], [9.082, -0.119, 0.0], [8.94, -0.111, 0.35], [8.876, -0.151, 0.0], [8.79, -0.135, 0.35],
    [8.712, -0.123, -0.3], [8.657, -0.137, 0.35], [8.562, -0.141, 0.35], [9.771, -0.135, 0.0], [9.853, -0.131, 0.35],
    [9.516, -0.133, 0.35], [9.634, -0.131, -0.3], [10.111, -0.131, 0.35],
    [10.356, -0.167, 0.35], [10.543, -0.171, 0.0], [10.602, -0.208, -0.3], [10.483, -0.192, 0.35], [10.333, -0.204, 0.35],
    [10.081, -0.171, 0.0], [10.036, -0.192, 0.0], [10.072, -0.208, 0.0], [10.054, -0.236, 0.35], [10.127, -0.208, 0.0],
    [9.972, -0.208, 0.35], [9.981, -0.22, 0.0], [9.89, -0.22, -0.3], [9.899, -0.18, 0.35], [9.853, -0.167, 0.0],
    [9.786, -0.18, 0.35], [9.725, -0.216, 0.0], [9.698, -0.228, 0.35], [9.662, -0.192, 0.35], [9.616, -0.171, 0.0],
    [9.588, -0.196, 0.0], [9.552, -0.22, 0.0], [9.597, -0.224, 0.35], [9.484, -0.208, 0.0], [9.442, -0.22, 0.35],
    [9.393, -0.232, 0.35], [9.36, -0.224, 0.0], [9.333, -0.236, 0.0], [9.433, -0.244, 0.0], [9.479, -0.236, 0.0],
    [9.287, -0.228, 0.0], [9.25, -0.224, 0.35], [9.21, -0.228, 0.35], [9.187, -0.212, 0.0], [9.123, -0.171, 0.35],
    [9.086, -0.175, 0.0], [9.019, -0.163, 0.35], [8.944, -0.192, 0.0], [8.958, -0.212, 0.0], [9.031, -0.20, -0.3],
    [9.013, -0.224, -0.3], [8.776, -0.196, 0.35], [8.748, -0.232, 0.35], [8.621, -0.204, 0.0], [8.602, -0.24, 0.35],
    [8.593, -0.273, 0.0], [8.681, -0.285, 0.35], [8.803, -0.265, 0.35], [8.849, -0.273, 0.35], [8.84, -0.281, 0.35],
    [8.876, -0.293, 0.35], [8.904, -0.285, -0.3], [8.958, -0.281, 0.35], [9.041, -0.248, 0.0], [9.05, -0.281, -0.65],
    [9.068, -0.273, 0.0], [9.104, -0.257, 0.35], [9.123, -0.273, 0.35], [9.305, -0.261, 0.0], [9.333, -0.248, 0.35],
    [9.506, -0.265, -0.65], [9.525, -0.285, 0.35], [9.461, -0.293, -0.8], [9.597, -0.285, -0.3], [9.616, -0.305, 0.0],
    [9.716, -0.301, 0.0], [9.752, -0.273, 0.35], [9.871, -0.273, -0.3], [9.899, -0.285, 0.35], [9.959, -0.261, -0.3],
    [10.008, -0.261, 0.0], [10.008, -0.289, 0.0], [10.145, -0.265, 0.0], [10.182, -0.269, 0.0], [10.27, -0.273, 0.35],
    [10.346, -0.261, 0.35], [10.368, -0.24, 0.35], [10.392, -0.265, 0.0], [10.386, -0.289, 0.0], [10.547, -0.282, -0.3],
    [10.209, -0.305, 0.35], [10.328, -0.313, 0.0], [9.944, -0.309, 0.0], [9.944, -0.321, 0.35],
    [8.615, -0.35, 0.35], [8.757, -0.366, 0.0], [8.794, -0.37, -0.3], [8.657, -0.411, 0.0], [8.809, -0.411, 0.0],
    [8.679, -0.451, 0.35], [8.818, -0.475, -0.3], [8.873, -0.466, 0.0], [8.894, -0.492, 0.35], [8.958, -0.471, -0.3],
    [8.955, -0.423, 0.0], [8.977, -0.325, 0.35], [8.986, -0.382, 0.35], [9.017, -0.362, 0.0], [9.022, -0.37, 0.0],
    [9.05, -0.329, 0.35], [9.059, -0.435, 0.0], [9.028, -0.451, -0.3], [9.046, -0.483, 0.0], [9.077, -0.374, 0.0],
    [9.119, -0.423, 0.35], [9.126, -0.338, -0.3], [9.154, -0.402, -0.3], [9.187, -0.35, 0.35], [9.21, -0.325, 0.35],
    [9.203, -0.386, 0.35], [9.241, -0.334, 0.0], [9.265, -0.338, -0.3], [9.241, -0.394, 0.0], [9.192, -0.443, 0.0],
    [9.256, -0.443, -0.3], [9.324, -0.455, 0.0], [9.333, -0.463, 0.0], [9.364, -0.471, 0.0], [9.397, -0.37, 0.0],
    [9.415, -0.342, -0.8], [9.455, -0.463, 0.0], [9.415, -0.467, 0.0], [9.475, -0.35, 0.0], [9.497, -0.321, 0.0],
    [9.543, -0.329, 0.0], [9.557, -0.321, 0.0], [9.576, -0.411, 0.35], [9.586, -0.386, -0.45], [9.643, -0.346, 0.35],
    [9.67, -0.431, -0.3], [9.689, -0.35, 0.0], [9.713, -0.419, -0.3], [9.725, -0.334, 0.0], [9.747, -0.37, 0.35],
    [9.703, -0.455, 0.35], [9.813, -0.443, 0.0], [9.846, -0.386, 0.0], [9.886, -0.321, 0.0], [9.886, -0.406, 0.0],
    [9.89, -0.455, 0.35], [9.89, -0.334, 0.35], [9.941, -0.406, 0.0], [9.944, -0.35, 0.35], [10.09, -0.354, 0.0],
    [10.072, -0.402, 0.35], [10.118, -0.398, 0.35], [10.154, -0.423, 0.35], [10.456, -0.439, 0.35], [9.835, -0.488, 0.0],
    [9.959, -0.488, 0.0], [10.145, -0.483, 0.0], [9.287, -0.496, 0.35], [9.196, -0.492, 0.35],
]

pts_f = [
    [8.704, 0.428, 0.2], [8.701, 0.288, -0.4], [8.791, 0.254, 0.0], [8.880, 0.226, -0.2], [9.056, 0.133, 0.35],
    [9.312, 0.090, -0.25], [9.222, 0.074, 0.0], [9.038, 0.047, 0.35], [9.669, 0.096, -0.4], [9.474, 0.047, -0.6],
    [9.342, -0.004, 0.35], [9.441, -0.015, -0.3], [9.518, -0.020, 0.35], [9.476, -0.070, 0.0], [9.010, -0.120, 0.35],
    [9.118, -0.156, 0.35], [9.129, -0.175, 0.0], [9.387, -0.154, 0.0], [8.962, -0.187, 0.35], [8.683, -0.271, 0.35],
    [8.962, -0.279, 0.35], [9.092, -0.300, 0.0], [9.088, -0.320, 0.0], [8.962, -0.334, 0.45], [9.441, -0.257, 0.35],
    [9.245, -0.354, -0.25], [9.402, -0.416, 0.35],
]

# median lines: blue = all galaxies, red = below main sequence
a_blue_x = [8.5, 9.45, 9.9, 10.35, 10.85, 11.31]
a_blue_y = [-0.20, -0.224, -0.15, -0.08, -0.033, 0.017]
a_red_x = [8.5, 9.42, 9.9, 10.37, 10.85, 11.27]
a_red_y = [-0.243, -0.273, -0.15, -0.033, -0.095, -0.147]
b_blue_x = [8.54, 8.89, 9.21, 9.52, 9.85, 10.16, 10.60]
b_blue_y = [-0.235, -0.204, -0.17, -0.114, -0.063, -0.032, -0.007]
b_red_x = [8.56, 8.89, 9.23, 9.52, 9.84, 10.16, 10.47]
b_red_y = [-0.17, -0.114, -0.063, -0.041, -0.016, -0.046, -0.08]
c_blue_x = [8.68, 9.2, 9.67]
c_blue_y = [-0.123, -0.007, 0.105]
d_blue_x = [8.5, 9.31, 9.45, 10.08, 10.87, 11.31]
d_blue_y = [-0.133, -0.172, -0.178, -0.092, 0.006, 0.067]
d_red_x = [8.525, 9.31, 10.08, 10.87]
d_red_y = [0.0, -0.178, -0.036, 0.006]
e_blue_x = [8.54, 9.0, 9.23, 9.62, 9.92, 10.16, 10.60]
e_blue_y = [-0.109, -0.147, -0.167, -0.155, -0.145, -0.147, -0.151]
e_red_x = [9.0, 9.5, 9.99, 10.48]
e_red_y = [-0.141, 0.002, 0.012, -0.281]
f_blue_x = [8.68, 9.18, 9.67]
f_blue_y = [-0.155, -0.042, 0.100]

titles = [r'$z$ = 0.7', r'$z$ = 2', r'$z$ = 5']
panel_tags = ['(a)', '(b)', '(c)', '(d)', '(e)', '(f)']
xlims = [(8.5, 11.5), (8.5, 11.0), (8.5, 10.0)]

cmap = plt.get_cmap('seismic_r')
norm = colors.Normalize(vmin=-1.5, vmax=0.5)

fig = plt.figure(figsize=(4078 / 300, 1875 / 300), dpi=300)
axes = fig.subplots(2, 3, sharex='col', sharey='row')
fig.subplots_adjust(left=0.0598, right=0.9412, bottom=0.0853, top=0.9504,
                    wspace=0.0846, hspace=0.112)

points = [pts_a, pts_b, pts_c, pts_d, pts_e, pts_f]
blues = [(a_blue_x, a_blue_y), (b_blue_x, b_blue_y), (c_blue_x, c_blue_y),
         (d_blue_x, d_blue_y), (e_blue_x, e_blue_y), (f_blue_x, f_blue_y)]
reds = [(a_red_x, a_red_y), (b_red_x, b_red_y), None,
        (d_red_x, d_red_y), (e_red_x, e_red_y), None]

for k, ax in enumerate(axes.flat):
    row, col = divmod(k, 3)
    p = np.array(points[k])
    sc = ax.scatter(p[:, 0], p[:, 1], c=p[:, 2], cmap=cmap, norm=norm, marker='^',
                    s=20, alpha=0.5, zorder=3, label='Thermal FB' if k == 2 else None)
    ax.plot(*blues[k], color='blue', lw=2.2, zorder=2)
    if reds[k] is not None:
        ax.plot(*reds[k], color='red', lw=2.2, zorder=2)
    ax.set_title(titles[col], fontsize=12)
    ax.text(0.05, 0.92, panel_tags[k], transform=ax.transAxes, fontsize=12,
            ha='left', va='center')
    ax.set_xlim(*xlims[col])
    if row == 1:
        ax.set_xlabel(r'log M$_*$ [M$_\odot$]', fontsize=10)

axes[0, 0].set_ylim(-1.0, 0.5)
axes[0, 0].set_yticks(np.arange(-1.0, 0.41, 0.2))
axes[1, 0].set_ylim(-0.5, 0.5)
axes[1, 0].set_yticks(np.arange(-0.4, 0.41, 0.2))
axes[0, 0].set_xticks(np.arange(8.5, 11.51, 0.5))
axes[0, 1].set_xticks(np.arange(8.5, 11.01, 0.5))
axes[0, 2].set_xticks(np.arange(8.6, 10.01, 0.2))

axes[0, 0].set_ylabel(r'$\Delta$log ($Z_*/Z_{\odot}$) / $\Delta$log (r/R$_e$)', fontsize=14)
axes[1, 0].set_ylabel(r'$\Delta$[O/H]$_g$ / $\Delta$r [dex/kpc]', fontsize=14)

axes[0, 2].legend(loc='lower right', fontsize=10)

cax = fig.add_axes([0.9524, 0.1653, 0.0135, 0.655])
cb = fig.colorbar(cm.ScalarMappable(norm=norm, cmap=cmap), cax=cax, alpha=0.4)
cb.set_ticks([0.5, 0.0, -0.5, -1.0, -1.5])
cb.ax.tick_params(labelsize=8)
cb.ax.set_title(r'$\Delta$SFMS', fontsize=10, pad=14)

fig.savefig('out.png', dpi=300)
